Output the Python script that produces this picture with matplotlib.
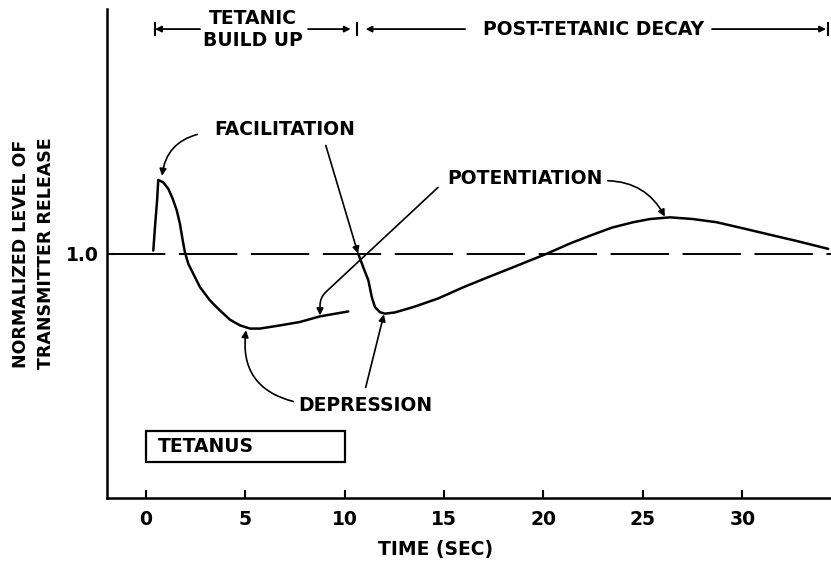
import matplotlib
matplotlib.use("Agg")
import matplotlib.pyplot as plt
from matplotlib.patches import Rectangle

# tetanic build-up (time in s, normalized release)
build_t = [0.39, 0.48, 0.58, 0.64, 0.89, 1.15, 1.37, 1.57, 1.73, 1.87, 1.98, 2.15, 2.40, 2.74,
           3.24, 3.74, 4.25, 4.75, 5.25, 5.75, 6.76, 7.76, 8.77, 10.19]
build_y = [1.012, 1.114, 1.216, 1.301, 1.291, 1.264, 1.223, 1.176, 1.121, 1.053, 1.005, 0.958,
           0.917, 0.862, 0.808, 0.767, 0.729, 0.706, 0.693, 0.693, 0.706, 0.720, 0.743, 0.763]

# post-tetanic decay
post_t = [10.69, 10.94, 11.20, 11.37, 11.53, 11.78, 12.03, 12.53, 13.46, 14.70, 15.97, 17.21,
          18.48, 20.16, 21.33, 22.34, 23.44, 24.51, 25.35, 26.36, 27.51, 28.70, 29.87, 31.22,
          32.74, 34.31]
post_y = [1.000, 0.944, 0.890, 0.822, 0.781, 0.760, 0.754, 0.759, 0.781, 0.816, 0.862, 0.903,
          0.944, 0.999, 1.041, 1.073, 1.106, 1.128, 1.141, 1.148, 1.141, 1.128, 1.106, 1.080,
          1.051, 1.019]

xticks = [0, 5, 10, 15, 20, 25, 30]
tetanus = (0, 10)
phases = [("TETANIC\nBUILD UP", 0.48, 10.61), ("POST-TETANIC DECAY", 10.61, 34.3)]

FONT = dict(family="DejaVu Sans", fontweight="bold", fontsize=13.5)

fig = plt.figure(figsize=(8.31, 5.62), dpi=100)
ax = fig.add_axes([0.1288, 0.1139, 0.8712, 0.870])

ax.plot(build_t, build_y, color="black", lw=1.8, solid_capstyle="round", solid_joinstyle="round")
ax.plot(post_t, post_y, color="black", lw=1.8, solid_capstyle="round", solid_joinstyle="round")
ax.axhline(1.0, color="black", lw=1.4, dashes=(30, 7))

ax.set_xlim(-1.935, 34.45)
ax.set_ylim(0, 2.0)
for s in ["top", "right"]:
    ax.spines[s].set_visible(False)
for s in ["left", "bottom"]:
    ax.spines[s].set_linewidth(1.8)
ax.set_xticks(xticks)
ax.set_xticklabels([str(t) for t in xticks], **FONT)
ax.set_yticks([1.0])
ax.set_yticklabels(["1.0"], **FONT)
ax.tick_params(direction="in", length=6, width=1.5, pad=9)
ax.tick_params(axis="y", pad=6)

ax.set_xlabel("TIME (SEC)", **FONT)
ax.xaxis.set_label_coords(0.454, -0.085)
ax.set_ylabel("NORMALIZED LEVEL OF\nTRANSMITTER RELEASE", linespacing=1.5,
              family="DejaVu Sans", fontweight="bold", fontsize=12.5)
ax.yaxis.set_label_coords(-0.072, 0.5)

# tetanus box
ax.add_patch(Rectangle((tetanus[0], 0.147), tetanus[1] - tetanus[0], 0.128,
                       fill=False, ec="black", lw=1.6))
ax.text(tetanus[0] + 0.63, 0.211, "TETANUS", va="center", ha="left", **FONT)

# phase brackets at the top
yb = 1.918
arr = dict(arrowstyle="-|>", color="black", lw=1.3, mutation_scale=9, shrinkA=0, shrinkB=0)
ax.text(5.40, yb, phases[0][0], ha="center", va="center", linespacing=1.2, **FONT)
ax.annotate("", xy=(phases[0][1], yb), xytext=(2.74, yb), arrowprops=arr)
ax.annotate("", xy=(phases[0][2] - 0.3, yb), xytext=(8.17, yb), arrowprops=arr)
ax.text(22.54, yb, phases[1][0], ha="center", va="center", **FONT)
ax.annotate("", xy=(phases[1][1] + 0.45, yb), xytext=(16.06, yb), arrowprops=arr)
ax.annotate("", xy=(phases[1][2] - 0.1, yb), xytext=(28.47, yb), arrowprops=arr)
for xb in [phases[0][1], phases[0][2], phases[1][2]]:
    ax.plot([xb, xb], [yb - 0.025, yb + 0.025], color="black", lw=1.5)

# labels with pointers
lab = dict(arrowstyle="-|>", color="black", lw=1.2, mutation_scale=10, shrinkA=2, shrinkB=0)
ax.text(7.01, 1.506, "FACILITATION", ha="center", va="center", **FONT)
ax.annotate("", xy=(0.83, 1.318), xytext=(2.74, 1.49),
            arrowprops=dict(lab, connectionstyle="arc3,rad=0.35"))
ax.annotate("", xy=(10.68, 1.0), xytext=(9.02, 1.453), arrowprops=lab)

ax.text(19.07, 1.306, "POTENTIATION", ha="center", va="center", **FONT)
ax.annotate("", xy=(8.77, 0.747), xytext=(14.8, 1.278),
            arrowprops=dict(lab, connectionstyle="angle,angleA=43,angleB=90,rad=8"))
ax.annotate("", xy=(26.1, 1.151), xytext=(23.09, 1.298),
            arrowprops=dict(lab, connectionstyle="arc3,rad=-0.3"))

ax.text(11.05, 0.38, "DEPRESSION", ha="center", va="center", **FONT)
ax.annotate("", xy=(5.05, 0.686), xytext=(7.56, 0.392),
            arrowprops=dict(lab, connectionstyle="arc3,rad=-0.45"))
ax.annotate("", xy=(11.98, 0.751), xytext=(11.03, 0.441), arrowprops=lab)

fig.savefig("out.png", dpi=100)
